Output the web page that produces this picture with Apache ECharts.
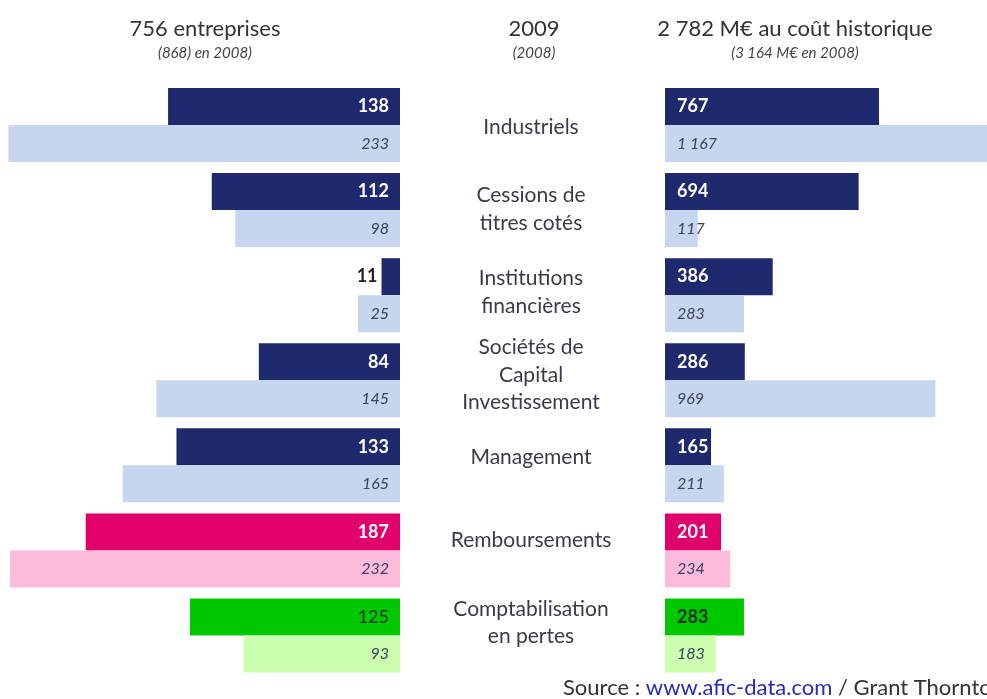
<!DOCTYPE html>
<html>
<head>
<meta charset="utf-8">
<script src="https://cdn.jsdelivr.net/npm/echarts@6/dist/echarts.min.js"></script>
<style>
html,body{margin:0;padding:0;background:#fff;}
#main{width:987px;height:699px;}
</style>
</head>
<body>
<div id="main"></div>
<script>
// categories (top to bottom)
const categories = ['Industriels', 'Cessions de\ntitres cotés', 'Institutions\nfinancières',
    'Sociétés de\nCapital\nInvestissement', 'Management', 'Remboursements', 'Comptabilisation\nen pertes'];
// nombre d'entreprises
const count2009 = [138, 112, 11, 84, 133, 187, 125];
const count2008 = [233, 98, 25, 145, 165, 232, 93];
// M€ au coût historique
const amount2009 = [767, 694, 386, 286, 165, 201, 283];
const amount2008 = [1167, 117, 283, 969, 211, 234, 183];

const darkColors = ['#1f2a6e', '#1f2a6e', '#1f2a6e', '#1f2a6e', '#1f2a6e', '#e1006b', '#00c800'];
const lightColors = ['#c6d6ee', '#c6d6ee', '#c6d6ee', '#c6d6ee', '#c6d6ee', '#fdbbdb', '#ccffb0'];

const FONT = 'Lato, "Open Sans", sans-serif';

const fmt = (v) => String(v).replace(/\B(?=(\d{3})+(?!\d))/g, ' ');

const darkItems = (vals, side) => vals.map((v, i) => {
    let item = { value: v, itemStyle: { color: darkColors[i] } };
    if (i == 6) item.label = { color: '#143214', fontWeight: side == 'left' ? 'normal' : 'bold' };
    // tiny bar : label outside
    if (side == 'left' && v < 20) item.label = { position: 'left', color: '#222', distance: 4 };
    return item;
});
const lightItems = (vals) => vals.map((v, i) => ({ value: v, itemStyle: { color: lightColors[i] } }));

const darkLabel = (pos) => ({
    show: true, position: pos, distance: pos == 'insideRight' ? 11 : 12,
    color: '#fff', fontWeight: 'bold', fontSize: 18, fontFamily: FONT,
    formatter: (p) => fmt(p.value)
});
const lightLabel = (pos) => ({
    show: true, position: pos, distance: pos == 'insideRight' ? 11 : 12,
    color: '#3b4262', fontStyle: 'italic', fontSize: 16, fontFamily: FONT,
    formatter: (p) => fmt(p.value)
});

const headStyle = { fontFamily: FONT, fontSize: 22, fontWeight: 'normal', color: '#333' };
const subStyle = { fontFamily: FONT, fontSize: 15, fontStyle: 'italic', color: '#444' };

const chart = echarts.init(document.getElementById('main'));
const option = {
    backgroundColor: '#fff',
    animation: false,
    title: [
        { text: '756 entreprises', subtext: '(868) en 2008)', left: 200, top: 13, textAlign: 'center', itemGap: 6,
          textStyle: headStyle, subtextStyle: subStyle },
        { text: '2009', subtext: '(2008)', left: 529, top: 13, textAlign: 'center', itemGap: 6,
          textStyle: headStyle, subtextStyle: subStyle },
        { text: '2 782 M€ au coût historique', subtext: '(3 164 M€ en 2008)', left: 790, top: 13, textAlign: 'center', itemGap: 6,
          textStyle: headStyle, subtextStyle: subStyle },
        { text: '{a|Source : }{b|www.afic-data.com}{a| / Grant Thornton}', left: 558, top: 672,
          textStyle: { fontWeight: 'normal', rich: {
              a: { fontFamily: FONT, fontSize: 22, fontWeight: 'normal', color: '#333' },
              b: { fontFamily: FONT, fontSize: 22, fontWeight: 'normal', color: '#2b2bb3' } } } }
    ],
    grid: [
        { left: 0, width: 400, top: 82.5, bottom: 21 },
        { left: 665, right: 0, top: 82.5, bottom: 21 },
        // grid only used to place the category names
        { left: 0, width: 400, top: 85.5, bottom: 35 }
    ],
    xAxis: [
        { gridIndex: 0, type: 'value', inverse: true, min: 0, max: 238, show: false },
        { gridIndex: 1, type: 'value', min: 0, max: 1154, show: false },
        { gridIndex: 2, type: 'value', min: 0, max: 238, show: false }
    ],
    yAxis: [
        { gridIndex: 0, type: 'category', data: categories, inverse: true, show: false },
        { gridIndex: 1, type: 'category', data: categories, inverse: true, show: false },
        { gridIndex: 2, type: 'category', data: categories, inverse: true, position: 'right',
          axisLine: { show: false }, axisTick: { show: false }, splitLine: { show: false },
          axisLabel: { show: true, align: 'center', margin: 131, fontFamily: FONT, fontSize: 21,
                       lineHeight: 27.5, color: '#3a3b48' } }
    ],
    series: [
        { name: 'entreprises 2009', type: 'bar', xAxisIndex: 0, yAxisIndex: 0, barWidth: 37, barGap: '0%',
          data: darkItems(count2009, 'left'), label: darkLabel('insideRight') },
        { name: 'entreprises 2008', type: 'bar', xAxisIndex: 0, yAxisIndex: 0, barWidth: 37, barGap: '0%',
          data: lightItems(count2008), label: lightLabel('insideRight') },
        { name: 'M€ 2009', type: 'bar', xAxisIndex: 1, yAxisIndex: 1, barWidth: 37, barGap: '0%',
          data: darkItems(amount2009, 'right'), label: darkLabel('insideLeft') },
        { name: 'M€ 2008', type: 'bar', xAxisIndex: 1, yAxisIndex: 1, barWidth: 37, barGap: '0%',
          data: lightItems(amount2008), label: lightLabel('insideLeft') }
    ]
};
chart.setOption(option);
</script>
</body>
</html>
